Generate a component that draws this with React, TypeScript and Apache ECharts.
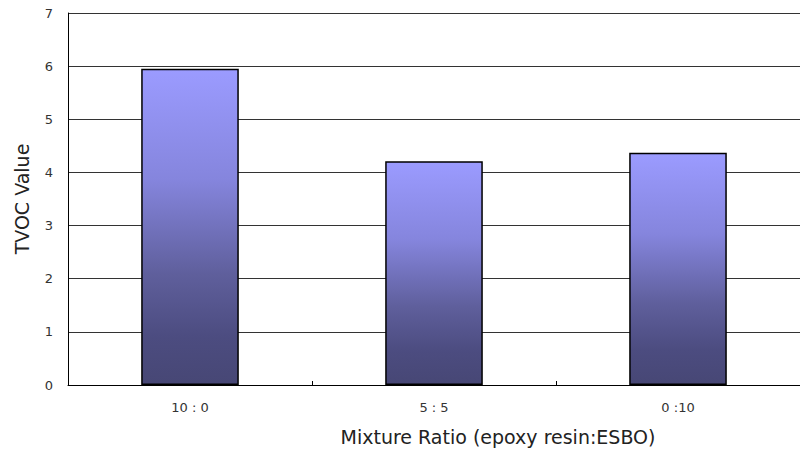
import React, { useEffect, useRef } from "react";
import * as echarts from "echarts";

const categories = ["10 : 0", "5 : 5", "0 :10"];
const tvocValues = [5.95, 4.21, 4.37];
const yTicks = [0, 1, 2, 3, 4, 5, 6, 7];
const xTitle = "Mixture Ratio (epoxy resin:ESBO)";
const yTitle = "TVOC Value";

export default function App() {
  const ref = useRef<HTMLDivElement>(null);
  useEffect(() => {
    if (!ref.current) return;
    const chart = echarts.init(ref.current, null, { renderer: "svg" });
    chart.setOption({
      animation: false,
      backgroundColor: "#ffffff",
      grid: { left: 68, right: 0, top: 13, bottom: 65, containLabel: false },
      xAxis: {
        type: "category",
        data: categories,
        axisLine: { show: true, lineStyle: { color: "#000", width: 1 } },
        axisTick: { show: true, inside: true, length: 4, lineStyle: { color: "#000" } },
        axisLabel: {
          color: "#333",
          fontSize: 13,
          fontFamily: "DejaVu Sans",
          margin: 16,
        },
        splitLine: { show: false },
      },
      yAxis: {
        type: "value",
        min: yTicks[0],
        max: yTicks[yTicks.length - 1],
        interval: 1,
        name: yTitle,
        nameLocation: "middle",
        nameGap: 37,
        nameTextStyle: { color: "#222", fontSize: 19, fontFamily: "DejaVu Sans" },
        axisLine: { show: true, lineStyle: { color: "#000", width: 1 } },
        axisTick: { show: false },
        axisLabel: { color: "#333", fontSize: 13, fontFamily: "DejaVu Sans", margin: 15 },
        splitLine: { show: true, lineStyle: { color: "#333", width: 1 } },
      },
      graphic: [
        {
          type: "text",
          x: 498,
          y: 437,
          style: {
            text: xTitle,
            fontSize: 19,
            fontFamily: "DejaVu Sans",
            fill: "#222",
            align: "center",
            verticalAlign: "middle",
          },
        },
      ],
      series: [
        {
          type: "bar",
          data: tvocValues,
          barWidth: "40%",
          itemStyle: {
            borderColor: "#000",
            borderWidth: 1.5,
            color: new echarts.graphic.LinearGradient(0, 0, 0, 1, [
              { offset: 0, color: "#9b9bff" },
              { offset: 0.35, color: "#8585dd" },
              { offset: 0.65, color: "#5f5f9c" },
              { offset: 0.85, color: "#4c4c80" },
              { offset: 1, color: "#474775" },
            ]),
          },
        },
      ],
    });
    return () => chart.dispose();
  }, []);
  return <div ref={ref} style={{ width: 800, height: 450, position: "absolute", left: 0, top: 0 }} />;
}
